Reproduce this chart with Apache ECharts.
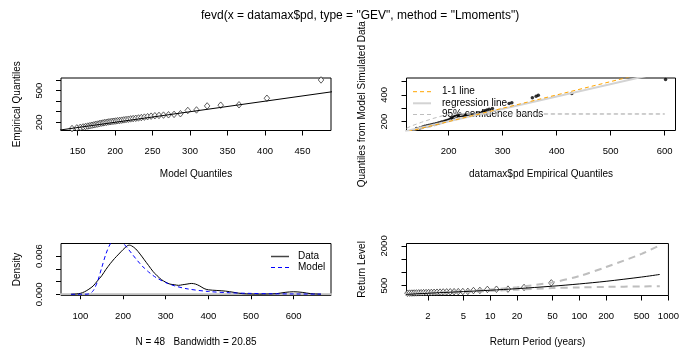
<!DOCTYPE html>
<html>
<head>
<meta charset="utf-8">
<script src="https://cdn.jsdelivr.net/npm/echarts@6/dist/echarts.min.js"></script>
<style>
html, body { margin: 0; padding: 0; background: #ffffff; }
#chart { width: 682px; height: 350px; }
</style>
</head>
<body>
<div id="chart"></div>
<script>
// ---- GEV diagnostics for datamax$pd (48 annual maxima) ----

// sorted observations and the matching fitted-model quantiles
const empiricalQuantiles = [140.5, 147, 152, 156, 160, 164, 168, 172, 176, 180, 183, 187,
  191, 194, 197, 200, 203, 205, 208, 210, 212, 215, 217, 220, 223, 226, 229, 232,
  235, 238, 241, 245, 249, 253, 258, 262, 265, 268, 271, 275, 281, 312, 317, 355,
  362, 366, 428, 601.6];
const modelQuantiles = [142.6, 149.0, 153.6, 157.4, 160.7, 163.7, 166.5, 169.2, 171.8, 174.3,
  176.7, 179.1, 181.5, 183.9, 186.2, 188.6, 191.0, 193.4, 195.9, 198.4, 200.9, 203.5,
  206.2, 208.9, 211.7, 214.6, 217.7, 220.8, 224.1, 227.6, 231.2, 235.0, 239.1, 243.4,
  248.1, 253.1, 258.6, 264.6, 271.3, 278.7, 287.2, 297.0, 308.6, 322.8, 340.9, 365.3,
  402.5, 474.7];
// quantiles of a sample simulated from the fitted model
const simulatedQuantiles = [148, 152, 160, 165, 168, 172, 176, 180, 184, 188, 192, 196,
  200, 204, 208, 212, 218, 224, 230, 235, 238, 241, 243, 244, 245, 246, 247, 248,
  249, 250, 251, 252, 254, 257, 262, 268, 274, 280, 287, 293, 299, 336, 341, 378,
  390, 398, 410, 515];
// fitted regression of simulated on observed quantiles: [intercept, slope]
const regressionFit = [16, 0.93];
// 95% bands for the simulated quantiles
const bandX = [122, 133, 150, 170, 190, 204, 215, 230, 240, 300, 400, 500, 600];
const bandLower = [125, 134, 145, 163, 188, 215, 238, 254, 257, 257, 257, 257, 257];
const bandUpper = [150, 170, 195, 222, 245, 257, 257, 257, 257, 257, 257, 257, 257];

// kernel density of the data and the fitted GEV density
const densityX = [78, 90, 100, 110, 120, 130, 140, 150, 160, 170, 180, 190, 200, 210, 215,
  220, 230, 240, 250, 260, 270, 280, 290, 300, 310, 320, 330, 340, 350, 360, 370,
  380, 390, 400, 420, 440, 460, 480, 500, 520, 540, 560, 580, 600, 620, 640, 664];
const densityData = [0.00001, 0.00005, 0.00015, 0.0004, 0.0008, 0.0013, 0.0021, 0.0029,
  0.0039, 0.0048, 0.0056, 0.0063, 0.0070, 0.0076, 0.0077, 0.0076, 0.0071, 0.0063,
  0.0054, 0.0045, 0.0036, 0.0029, 0.0023, 0.0019, 0.0016, 0.0015, 0.0014, 0.0015,
  0.0016, 0.0017, 0.0016, 0.0013, 0.0009, 0.0007, 0.0006, 0.0005, 0.0003, 0.0001,
  0.00005, 0.00003, 0.00005, 0.0001, 0.0003, 0.0004, 0.0003, 0.0001, 0.00002];
const modelDensityX = [78, 100, 110, 120, 130, 140, 150, 160, 170, 180, 190, 200, 210,
  220, 230, 240, 250, 260, 270, 280, 300, 320, 350, 400, 450, 500, 550, 600, 664];
const modelDensity = [0, 0.000001, 0.00001, 0.00006, 0.00055, 0.00197, 0.00416, 0.00634,
  0.00788, 0.00856, 0.00853, 0.00803, 0.00727, 0.00642, 0.00558, 0.00479, 0.00409,
  0.00349, 0.00296, 0.00252, 0.00183, 0.00134, 0.00086, 0.00044, 0.00024, 0.00014,
  0.00008, 0.00005, 0.00003];

// return levels with 95% bands
const rlPeriods = [1.1, 1.2, 1.5, 2, 3, 5, 10, 20, 50, 100, 200, 500, 800];
const rlLevels = [159, 170, 189, 210, 238, 273, 324, 384, 477, 562, 662, 823, 920];
const rlLower = [150, 162, 180, 200, 225, 255, 300, 345, 405, 430, 450, 468, 475];
const rlUpper = [168, 178, 198, 220, 252, 292, 350, 440, 620, 860, 1200, 1700, 2020];
// empirical return periods of the sorted observations
const obsPeriods = [0.257, 0.313, 0.358, 0.399, 0.438, 0.476, 0.514, 0.552, 0.590, 0.629,
  0.669, 0.711, 0.754, 0.798, 0.845, 0.894, 0.945, 0.999, 1.056, 1.116, 1.180, 1.249,
  1.322, 1.401, 1.486, 1.578, 1.678, 1.787, 1.907, 2.038, 2.184, 2.347, 2.530, 2.737,
  2.972, 3.244, 3.560, 3.934, 4.382, 4.929, 5.612, 6.489, 7.657, 9.294, 11.75, 15.82,
  23.98, 48.5];

// axis ticks and the labels R managed to print
const qqXTicks = [150, 200, 250, 300, 350, 400, 450];
const qqYTicks = [200, 300, 400, 500, 600];
const qqYLabels = [200, 500];
const simXTicks = [200, 300, 400, 500, 600];
const simYTicks = [200, 300, 400, 500];
const simYLabels = [200, 400];
const densXTicks = [100, 200, 300, 400, 500, 600];
const densYTicks = [0, 0.002, 0.004, 0.006];
const densYLabels = [0, 0.006];
const rlXTicks = [2, 5, 10, 20, 50, 100, 200, 500, 1000];
const rlYTicks = [500, 1000, 1500, 2000];
const rlYLabels = [500, 2000];

const FONT = 'Liberation Sans, Arial, sans-serif';
const pairs = (xs, ys) => xs.map((x, i) => [x, ys[i]]);
const lineEnds = [100, 700];

const grids = [
  { left: 61, top: 78, width: 270, height: 52.5 },
  { left: 406.5, top: 78, width: 269, height: 52.5 },
  { left: 61, top: 243.5, width: 270, height: 52 },
  { left: 406.5, top: 243.5, width: 269, height: 52 }
].map(g => Object.assign(g, { show: true, borderColor: '#000', borderWidth: 1, backgroundColor: 'transparent' }));

const tickStyle = { show: true, length: 5, inside: false, lineStyle: { color: '#000', width: 1 } };
const labelBase = { color: '#000', fontFamily: FONT, fontSize: 9.5 };
const nameStyle = { color: '#000', fontFamily: FONT, fontSize: 10 };

function xAxis(gi, min, max, ticks, name, gap, extra) {
  return Object.assign({
    gridIndex: gi, type: 'value', min, max,
    axisLine: { show: false }, splitLine: { show: false },
    axisTick: Object.assign({ customValues: ticks }, tickStyle),
    axisLabel: Object.assign({ customValues: ticks, margin: 16, formatter: v => String(v) }, labelBase),
    name, nameLocation: 'middle', nameGap: gap, nameTextStyle: nameStyle
  }, extra || {});
}
function yAxis(gi, min, max, ticks, shown, fmt, name) {
  return {
    gridIndex: gi, type: 'value', min, max,
    axisLine: { show: false }, splitLine: { show: false },
    axisTick: Object.assign({ customValues: ticks }, tickStyle),
    axisLabel: Object.assign({ customValues: shown, rotate: 90, margin: 17, formatter: fmt }, labelBase),
    name, nameLocation: 'middle', nameGap: 39, nameTextStyle: nameStyle
  };
}

const lineSeries = (xi, data, color, width, type, extra) => Object.assign({
  type: 'line', xAxisIndex: xi, yAxisIndex: xi, data, symbol: 'none', silent: true,
  clip: true, lineStyle: { color, width, type }
}, extra || {});

// R's open plotting symbol
const openPoint = { symbol: 'diamond', symbolSize: [5.5, 6.5],
  itemStyle: { color: '#fff', borderColor: '#222', borderWidth: 0.9 } };

const option = {
  animation: false,
  title: {
    text: 'fevd(x = datamax$pd, type = "GEV", method = "Lmoments")',
    left: 196, top: 5,
    textStyle: { fontFamily: FONT, fontSize: 12, fontWeight: 'normal', color: '#000' }
  },
  grid: grids,
  xAxis: [
    xAxis(0, 127.9, 488, qqXTicks, 'Model Quantiles', 39),
    xAxis(1, 122, 620, simXTicks, 'datamax$pd Empirical Quantiles', 39),
    xAxis(2, 54.6, 687.5, densXTicks, 'N = 48   Bandwidth = 20.85', 42),
    xAxis(3, 1.15, 1000, rlXTicks, 'Return Period (years)', 42, { type: 'log', logBase: 10 })
  ],
  yAxis: [
    yAxis(0, 122, 620, qqYTicks, qqYLabels, v => String(v), 'Empirical Quantiles'),
    yAxis(1, 133, 527, simYTicks, simYLabels, v => String(v), 'Quantiles from Model Simulated Data'),
    yAxis(2, -0.00019, 0.00796, densYTicks, densYLabels, v => v.toFixed(3), 'Density'),
    yAxis(3, 125, 2090, rlYTicks, rlYLabels, v => String(v), 'Return Level')
  ],
  series: [
    // QQ plot against the model
    lineSeries(0, lineEnds.map(x => [x, x]), '#000', 1, 'solid'),
    Object.assign({ type: 'scatter', xAxisIndex: 0, yAxisIndex: 0, silent: true,
      data: pairs(modelQuantiles, empiricalQuantiles) }, openPoint),

    // QQ plot against simulated data
    lineSeries(1, pairs(bandX, bandLower), '#BEBEBE', 1, [4, 3]),
    lineSeries(1, pairs(bandX, bandUpper), '#BEBEBE', 1, [4, 3]),
    lineSeries(1, lineEnds.map(x => [x, regressionFit[0] + regressionFit[1] * x]), '#D3D3D3', 2, 'solid'),
    lineSeries(1, lineEnds.map(x => [x, x]), '#FFA500', 1, [4, 3]),
    { type: 'scatter', xAxisIndex: 1, yAxisIndex: 1, data: pairs(empiricalQuantiles, simulatedQuantiles),
      symbol: 'circle', symbolSize: 3.5, itemStyle: { color: '#000' }, silent: true },

    // density comparison
    lineSeries(2, [[0, 0], [700, 0]], '#BEBEBE', 2, 'solid'),
    lineSeries(2, pairs(densityX, densityData), '#000', 1, 'solid', { smooth: 0.3 }),
    lineSeries(2, pairs(modelDensityX, modelDensity), '#0000FF', 1, [4, 3], { smooth: 0.3 }),

    // return level plot
    lineSeries(3, pairs(rlPeriods, rlLower), '#BEBEBE', 2, [7, 5], { smooth: 0.3 }),
    lineSeries(3, pairs(rlPeriods, rlUpper), '#BEBEBE', 2, [7, 5], { smooth: 0.3 }),
    lineSeries(3, pairs(rlPeriods, rlLevels), '#000', 1, 'solid', { smooth: 0.3 }),
    Object.assign({ type: 'scatter', xAxisIndex: 3, yAxisIndex: 3, silent: true, clip: true,
      data: pairs(obsPeriods, empiricalQuantiles) }, openPoint)
  ],
  graphic: [
    // legend of the simulated-quantile panel
    { type: 'line', shape: { x1: 413, y1: 91.7, x2: 431, y2: 91.7 }, style: { stroke: '#FFA500', lineWidth: 1, lineDash: [4, 3] } },
    { type: 'line', shape: { x1: 413, y1: 103.3, x2: 431, y2: 103.3 }, style: { stroke: '#D3D3D3', lineWidth: 2 } },
    { type: 'line', shape: { x1: 413, y1: 114.5, x2: 431, y2: 114.5 }, style: { stroke: '#BEBEBE', lineWidth: 1, lineDash: [4, 3] } },
    { type: 'text', x: 442, y: 91.7, style: { text: '1-1 line', font: '10px ' + FONT, fill: '#000', verticalAlign: 'middle' } },
    { type: 'text', x: 442, y: 103.3, style: { text: 'regression line', font: '10px ' + FONT, fill: '#000', verticalAlign: 'middle' } },
    { type: 'text', x: 442, y: 114.5, style: { text: '95% confidence bands', font: '10px ' + FONT, fill: '#000', verticalAlign: 'middle' } },
    // legend of the density panel
    { type: 'line', shape: { x1: 271, y1: 256.5, x2: 289, y2: 256.5 }, style: { stroke: '#444', lineWidth: 1.5 } },
    { type: 'line', shape: { x1: 271, y1: 267.5, x2: 289, y2: 267.5 }, style: { stroke: '#0000FF', lineWidth: 1, lineDash: [4, 3] } },
    { type: 'text', x: 298, y: 256.5, style: { text: 'Data', font: '10px ' + FONT, fill: '#000', verticalAlign: 'middle' } },
    { type: 'text', x: 298, y: 267.5, style: { text: 'Model', font: '10px ' + FONT, fill: '#000', verticalAlign: 'middle' } }
  ]
};

const chart = echarts.init(document.getElementById('chart'), null, { renderer: 'canvas' });
chart.setOption(option);
</script>
</body>
</html>
